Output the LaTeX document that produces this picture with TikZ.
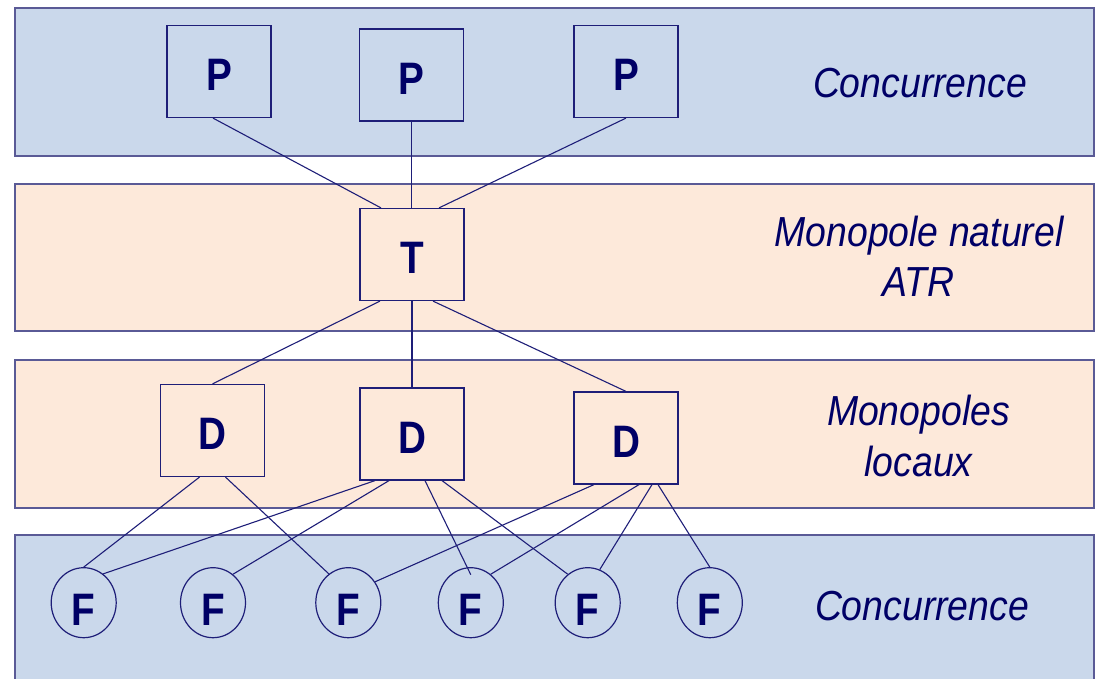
\documentclass[tikz,border=0pt]{standalone}
\usepackage{fontspec}
\setmainfont{Liberation Sans}
\newfontfamily\letterfont{Liberation Sans}[FakeStretch=0.85]
\newfontfamily\lblfont{Liberation Sans}[FakeStretch=0.89]
\usetikzlibrary{shapes.geometric}
\definecolor{navytext}{RGB}{0,0,102}
\definecolor{linecol}{RGB}{30,30,120}
\definecolor{bandline}{RGB}{90,90,150}
\definecolor{bandblue}{RGB}{202,216,235}
\definecolor{bandpeach}{RGB}{253,233,218}
\tikzset{
  bandblue/.style={fill=bandblue,draw=bandline,line width=1.4pt},
  bandpeach/.style={fill=bandpeach,draw=bandline,line width=1.4pt},
  firm/.style={draw=linecol,line width=1.2pt,minimum width=104pt,minimum height=92pt,inner sep=0pt,
    text height=38.5pt,text depth=0pt,
    text=navytext,font=\letterfont\bfseries\fontsize{45.5}{45.5}\selectfont},
  fcirc/.style={ellipse,draw=linecol,line width=1.2pt,minimum width=65pt,minimum height=70pt,inner sep=0pt,
    text height=46.5pt,text depth=0pt,
    text=navytext,font=\letterfont\bfseries\fontsize{45.5}{45.5}\selectfont},
  lbl/.style={anchor=base,text=navytext,inner sep=0pt,font=\lblfont\itshape\fontsize{42}{50}\selectfont},
  conn/.style={draw=linecol,line width=1.1pt}
}
\begin{document}
\begin{tikzpicture}[x=1pt,y=-1pt]
\useasboundingbox (0,0) rectangle (1096,678);
% bands
\path[bandblue] (15,8) rectangle (1094,156);
\path[bandpeach] (15,184) rectangle (1094,331);
\path[bandpeach] (15,360) rectangle (1094,508);
\fill[bandblue] (15,535) rectangle (1094,685);
\draw[draw=bandline,line width=1.4pt] (15,685) -- (15,535) -- (1094,535) -- (1094,685);
% labels
\node[lbl] (c1) at (920,97.3) {Concurrence};
\node[lbl] (m1) at (919,246.7) {Monopole naturel};
\node[lbl] (m2) at (918,296.7) {ATR};
\node[lbl] (l1) at (918.5,425.7) {Monopoles};
\node[lbl] (l2) at (918.5,476) {locaux};
\node[lbl] (c2) at (922,620) {Concurrence};
% nodes
\node[firm] (P1) at (219,71.5) {P};
\node[firm] (P2) at (411.5,75) {P};
\node[firm] (P3) at (626,71.5) {P};
\node[firm] (T) at (412,254.5) {T};
\node[firm] (D1) at (212.5,430.5) {D};
\node[firm] (D2) at (412,434) {D};
\node[firm] (D3) at (626,438) {D};
\node[fcirc] (F1) at (83.7,602.7) {F};
\node[fcirc] (F2) at (213,602.7) {F};
\node[fcirc] (F3) at (348.3,602.7) {F};
\node[fcirc] (F4) at (470.8,602.7) {F};
\node[fcirc] (F5) at (587.7,602.7) {F};
\node[fcirc] (F6) at (709.8,602.7) {F};
% connectors P -> T
\draw[conn] ([xshift=-6pt]P1.south) -- ([xshift=-31pt]T.north);
\draw[conn] (P2.south) -- (P2.south |- T.north);
\draw[conn] (P3.south) -- ([xshift=27pt]T.north);
% T -> D
\draw[conn] ([xshift=-32pt]T.south) -- (D1.north);
\draw[conn] (T.south) -- (D2.north);
\draw[conn] ([xshift=21pt]T.south) -- (D3.north);
% D1 -> F
\draw[conn] ([xshift=-13pt]D1.south) -- (F1.north);
\draw[conn] ([xshift=13pt]D1.south) -- (F3.124.6);
% D2 -> F
\draw[conn] ([xshift=-37pt]D2.south) -- (F1.56.3);
\draw[conn] ([xshift=-23pt]D2.south) -- (F2.55.4);
\draw[conn] ([xshift=13pt]D2.south) -- ([yshift=28pt]F4.center);
\draw[conn] ([xshift=30pt]D2.south) -- (F5.125);
% D3 -> F
\draw[conn] ([xshift=-32pt]D3.south) -- (F3.38.4);
\draw[conn] ([xshift=13pt]D3.south) -- (F4.55.5);
\draw[conn] ([xshift=26pt]D3.south) -- (F5.70.8);
\draw[conn] ([xshift=32pt]D3.south) -- (F6.north);
\end{tikzpicture}
\end{document}
